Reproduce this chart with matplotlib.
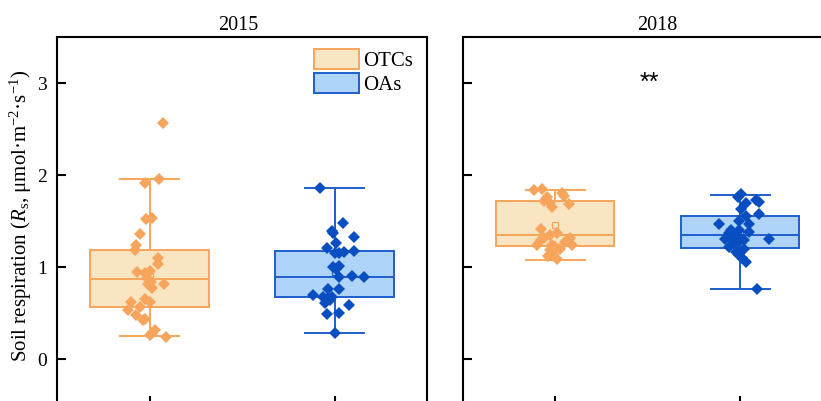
import numpy as np
import matplotlib
matplotlib.use("Agg")
import matplotlib.pyplot as plt
from matplotlib.patches import Patch

plt.rcParams['font.family'] = ['Liberation Serif', 'DejaVu Serif']
plt.rcParams['mathtext.fontset'] = 'custom'
plt.rcParams['mathtext.rm'] = 'Liberation Serif'
plt.rcParams['mathtext.it'] = 'Liberation Serif:italic'

years = ["2015", "2018"]
groups = ["OTCs", "OAs"]

# box statistics per year, per group: lower whisker, Q1, median, Q3, upper whisker, mean
whislo = [[0.25, 0.279], [1.076, 0.761]]
q1 = [[0.568, 0.674], [1.228, 1.203]]
med = [[0.866, 0.895], [1.348, 1.345]]
q3 = [[1.185, 1.177], [1.72, 1.558]]
whishi = [[1.957, 1.855], [1.837, 1.783]]
means = [[0.92, 0.95], [1.457, 1.38]]

# individual plots: jitter offset from group centre and Rs value
otc15_dx = [0.072, 0.049, -0.027, -0.018, 0.014, -0.054, -0.072, -0.076, 0.045, 0.045,
            -0.067, -0.022, 0.004, -0.014, 0.009, -0.009, 0.081, 0.012, -0.027, 0.002,
            -0.099, -0.117, -0.049, -0.072, -0.036, -0.022, 0.032, 0.014, 0.0, 0.090]
otc15_rs = [2.57, 1.957, 1.91, 1.52, 1.53, 1.36, 1.24, 1.185, 1.10, 1.03,
            0.945, 0.93, 0.953, 0.877, 0.84, 0.815, 0.81, 0.77, 0.65, 0.616,
            0.616, 0.53, 0.57, 0.478, 0.424, 0.43, 0.31, 0.28, 0.26, 0.24]

oa15_dx = [-0.076, 0.045, -0.015, -0.009, 0.103, 0.009, -0.039, 0.004, 0.027, 0.050,
           0.108, -0.009, 0.027, 0.009, 0.027, 0.094, 0.162, -0.036, 0.027, -0.114,
           -0.063, -0.036, -0.015, -0.054, -0.027, 0.081, -0.042, 0.022, 0.005]
oa15_rs = [1.855, 1.475, 1.39, 1.366, 1.33, 1.257, 1.203, 1.149, 1.149, 1.166,
           1.177, 1.003, 1.014, 0.978, 0.895, 0.905, 0.895, 0.761, 0.758, 0.696,
           0.677, 0.666, 0.677, 0.612, 0.641, 0.587, 0.486, 0.497, 0.279]

otc18_dx = [-0.117, -0.072, 0.036, 0.045, -0.045, -0.063, -0.027, -0.018, 0.072, -0.076,
            0.012, -0.027, -0.063, 0.081, -0.076, 0.054, -0.099, -0.018, 0.0, 0.090,
            0.027, -0.027, -0.013, -0.037, 0.009]
otc18_rs = [1.837, 1.845, 1.80, 1.772, 1.764, 1.72, 1.692, 1.655, 1.685, 1.41,
            1.373, 1.348, 1.31, 1.318, 1.293, 1.275, 1.24, 1.24, 1.214, 1.24,
            1.192, 1.185, 1.141, 1.12, 1.084]

oa18_dx = [0.002, -0.013, 0.083, 0.101, 0.029, 0.005, 0.104, 0.029, -0.009, -0.115,
           0.047, -0.049, -0.004, 0.050, -0.062, -0.022, -0.080, -0.040, 0.005, 0.023,
           0.158, -0.062, -0.022, 0.023, -0.022, -0.004, 0.011, 0.032, 0.090]
oa18_rs = [1.793, 1.757, 1.728, 1.703, 1.692, 1.627, 1.576, 1.554, 1.503, 1.467,
           1.467, 1.402, 1.402, 1.384, 1.366, 1.348, 1.304, 1.293, 1.301, 1.293,
           1.301, 1.214, 1.24, 1.196, 1.166, 1.13, 1.095, 1.058, 0.761]

points = [[(otc15_dx, otc15_rs), (oa15_dx, oa15_rs)],
          [(otc18_dx, otc18_rs), (oa18_dx, oa18_rs)]]

edge_colors = ["#F7A65A", "#1E5FCD"]
face_colors = ["#F9E5C1", "#AED4FA"]
dot_colors = ["#F7A45C", "#084EC0"]

fig = plt.figure(figsize=(8.21, 4.01), dpi=100)
ax_left = fig.add_axes([57 / 821, -4 / 401, 370 / 821, 368 / 401])
ax_right = fig.add_axes([462.7 / 821, -4 / 401, 370 / 821, 368 / 401])
axes = [ax_left, ax_right]
title_x = [0.489, 0.525]

for i, ax in enumerate(axes):
    for j in range(2):
        stats = [dict(whislo=whislo[i][j], q1=q1[i][j], med=med[i][j], q3=q3[i][j],
                      whishi=whishi[i][j], mean=means[i][j], fliers=[])]
        ec = edge_colors[j]
        ax.bxp(stats, positions=[j + 1], widths=0.64, capwidths=0.32,
               patch_artist=True, showmeans=True, showfliers=False,
               boxprops=dict(facecolor=face_colors[j], edgecolor=ec, linewidth=1.4),
               medianprops=dict(color=ec, linewidth=1.4),
               whiskerprops=dict(color=ec, linewidth=1.4),
               capprops=dict(color=ec, linewidth=1.4),
               meanprops=dict(marker='s', markersize=4, markerfacecolor='none',
                              markeredgecolor=ec, markeredgewidth=0.9),
               zorder=2)
        dx, rs = points[i][j]
        ax.plot(np.array(dx) + j + 1, rs, linestyle='none', marker='D', markersize=5.8,
                color=dot_colors[j], markeredgewidth=0, zorder=3)

    ax.set_xlim(0.5, 2.5)
    ax.set_ylim(-0.5, 3.5)
    ax.set_xticks([1, 2])
    ax.set_xticklabels([])
    ax.set_yticks([0, 1, 2, 3])
    ax.tick_params(direction='in', length=6.5, width=1.5, labelsize=14, pad=7)
    for sp in ax.spines.values():
        sp.set_linewidth(1.5)
    ax.set_title(years[i], fontsize=14.5, pad=5, x=title_x[i])

ax_right.set_yticklabels([])

ax_left.set_ylabel(r"Soil respiration ($\mathit{R}_\mathrm{s}$, μmol·m$^{-2}$·s$^{-1}$)",
                   fontsize=15)
ax_left.yaxis.set_label_coords(-0.062, 0.515)

handles = [Patch(facecolor=face_colors[k], edgecolor=edge_colors[k], linewidth=1.4,
                 label=groups[k]) for k in range(2)]
ax_left.legend(handles=handles, loc='upper right', bbox_to_anchor=(0.962, 1 - 12 / 368),
               frameon=False, fontsize=15, handlelength=2.16, handleheight=1.1,
               handletextpad=0.2, labelspacing=0.1, borderpad=0, borderaxespad=0)

ax_right.text(1.51, 3.0, "**", fontsize=18, family='Liberation Sans',
              ha='center', va='center')

plt.savefig("out.png", dpi=100)
